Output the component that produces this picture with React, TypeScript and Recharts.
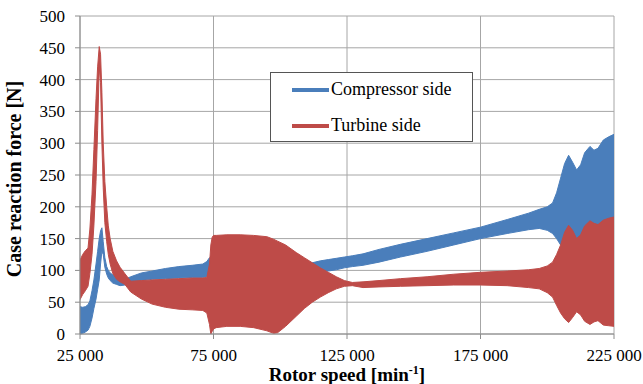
import React from 'react';
import { ComposedChart, Area, XAxis, YAxis, CartesianGrid } from 'recharts';

const speed = [
  25000, 26000, 27000, 28000, 28700, 29500, 30200, 31000, 31600, 32200,
  32700, 33200, 33700, 34300, 35000, 35600, 36300, 37300, 38700, 40000,
  41800, 44000, 48000, 52000, 57000, 62000, 67000, 71000, 72500, 73500,
  74000, 74500, 75000, 76000, 80000, 85000, 90000, 95000, 97500, 99000,
  102000, 106000, 109000, 112000, 115000, 118000, 121000, 124000, 127000, 131000,
  137000, 145000, 155000, 165000, 175000, 185000, 193000, 197000, 200000, 202000,
  203500, 205000, 206500, 208000, 209500, 211000, 212500, 214000, 216000, 217500,
  219000, 221000, 223000, 225000,
];

const turbineHigh = [
  116, 125, 131, 135, 165, 220, 290, 370, 420, 452,
  440, 380, 300, 240, 200, 170, 150, 130, 115, 105,
  95, 83, 84, 85, 86, 87, 88, 88, 89, 110,
  140, 152, 155, 155, 156, 156, 155, 153, 149, 146,
  140, 128, 120, 112, 104, 97, 90, 84, 81, 82,
  84, 87, 90, 94, 97, 99, 101, 103, 107, 113,
  125, 140, 160, 171, 163, 150, 156, 170, 178, 174,
  172, 179, 182, 184,
];

const turbineLow = [
  54, 62, 68, 75, 95, 125, 170, 240, 320, 420,
  395, 300, 230, 175, 145, 125, 110, 95, 86, 82,
  78, 66, 55, 47, 42, 39, 38, 37, 33, 15,
  0, 4, 8, 10, 12, 12, 10, 5, 1, 2,
  12, 28, 40, 50, 58, 65, 71, 75, 76, 73,
  74, 75, 76, 77, 77, 76, 73, 71, 65, 58,
  45, 33, 24, 18, 26, 35, 30, 20, 15, 19,
  21, 14, 13, 12,
];

const compressorHigh = [
  43, 42, 43, 46, 52, 68, 85, 110, 130, 150,
  162, 167, 145, 120, 106, 100, 96, 93, 90, 87,
  86, 90, 96, 99, 103, 106, 108, 110, 114, 120,
  120, 118, 115, 110, 104, 104, 105, 106, 107, 107,
  108, 110, 111, 112, 115, 117, 119, 121, 123, 126,
  133, 141, 150, 159, 168, 180, 190, 196, 200, 206,
  222, 245, 268, 281, 270, 258, 266, 285, 295, 289,
  292, 305, 310, 314,
];

const compressorLow = [
  0, 1, 3, 6, 12, 25, 40, 55, 70, 85,
  110, 130, 125, 105, 94, 88, 84, 80, 78, 76,
  77, 80, 84, 86, 87, 88, 89, 89, 90, 92,
  93, 93, 93, 93, 93, 94, 95, 96, 96, 96,
  97, 98, 99, 99, 99, 99, 101, 104, 106, 108,
  113, 121, 130, 140, 150, 158, 164, 166, 163, 158,
  150, 140, 150, 165, 155, 148, 150, 165, 175, 170,
  168, 175, 180, 182,
];

const xTicks = [25000, 75000, 125000, 175000, 225000];
const yTicks = [0, 50, 100, 150, 200, 250, 300, 350, 400, 450, 500];
const seriesNames = ['Compressor side', 'Turbine side'];
const seriesColors = ['#4A7EBB', '#BE4B48'];
const xTitle = 'Rotor speed [min';
const yTitle = 'Case reaction force [N]';

const data = speed.map((s, i) => ({
  speed: s,
  comp: [compressorLow[i], compressorHigh[i]],
  turb: [turbineLow[i], turbineHigh[i]],
}));

const FONT = '"Liberation Serif", "Times New Roman", Times, serif';

const fmtThousands = (v: number) => {
  const s = String(v);
  return s.length > 3 ? s.slice(0, -3) + ' ' + s.slice(-3) : s;
};

const XTick = (props: any) => {
  const { x, y, payload } = props;
  return (
    <text x={x} y={y + 11} textAnchor="middle" style={{ fontFamily: FONT, fontSize: 17 }} fill="#000">
      {fmtThousands(payload.value)}
    </text>
  );
};

const YTick = (props: any) => {
  const { x, y, payload } = props;
  return (
    <text x={x} y={y + 6} textAnchor="end" style={{ fontFamily: FONT, fontSize: 17 }} fill="#000">
      {payload.value}
    </text>
  );
};

const XLabel = (props: any) => {
  const vb = props.viewBox || { x: 80, y: 334, width: 534, height: 50 };
  const cx = vb.x + vb.width / 2;
  return (
    <text x={cx} y={vb.y + 47} textAnchor="middle" style={{ fontFamily: FONT, fontWeight: 'bold', fontSize: 19 }} fill="#000">
      {xTitle}
      <tspan dy={-7} style={{ fontSize: 12 }}>-1</tspan>
      <tspan dy={7}>]</tspan>
    </text>
  );
};

const YLabel = (props: any) => {
  const vb = props.viewBox || { x: 0, y: 16, width: 80, height: 318 };
  const x = vb.x + 21;
  const y = vb.y + vb.height / 2 + 4;
  return (
    <text x={x} y={y} transform={`rotate(-90, ${x}, ${y})`} textAnchor="middle" style={{ fontFamily: FONT, fontWeight: 'bold', fontSize: 20 }} fill="#000">
      {yTitle}
    </text>
  );
};

export default function App() {
  return (
    <div style={{ position: 'absolute', left: 0, top: 0, width: 643, height: 384, background: '#fff' }}>
      <ComposedChart width={643} height={384} data={data} margin={{ top: 16, right: 29, bottom: 0, left: 0 }}>
        <CartesianGrid stroke="#A6A6A6" strokeWidth={1} />
        <XAxis
          dataKey="speed"
          type="number"
          domain={[25000, 225000]}
          ticks={xTicks}
          height={50}
          tickSize={5}
          tickMargin={11}
          stroke="#8C8C8C"
          tick={<XTick />}
          label={<XLabel />}
          allowDataOverflow
        />
        <YAxis
          type="number"
          domain={[0, 500]}
          ticks={yTicks}
          width={80}
          tickSize={5}
          tickMargin={10}
          stroke="#8C8C8C"
          tick={<YTick />}
          label={<YLabel />}
        />
        <Area
          type="linear"
          dataKey="comp"
          name={seriesNames[0]}
          stroke={seriesColors[0]}
          strokeWidth={1}
          fill={seriesColors[0]}
          fillOpacity={1}
          isAnimationActive={false}
          dot={false}
          activeDot={false}
        />
        <Area
          type="linear"
          dataKey="turb"
          name={seriesNames[1]}
          stroke={seriesColors[1]}
          strokeWidth={1}
          fill={seriesColors[1]}
          fillOpacity={1}
          isAnimationActive={false}
          dot={false}
          activeDot={false}
        />
      </ComposedChart>
      <div
        style={{
          position: 'absolute',
          left: 270,
          top: 72,
          width: 203,
          height: 70,
          border: '1px solid #555',
          background: '#fff',
          boxSizing: 'border-box',
          fontFamily: FONT,
          fontSize: 18,
          color: '#000',
        }}
      >
        {seriesNames.map((n, i) => (
          <div key={n} style={{ position: 'absolute', left: 0, top: i === 0 ? 5 : 41, height: 22, width: '100%' }}>
            <div style={{ position: 'absolute', left: 21, top: 10, width: 37, height: 3.5, background: seriesColors[i] }} />
            <div style={{ position: 'absolute', left: 60, top: 0, lineHeight: '22px', whiteSpace: 'nowrap' }}>{n}</div>
          </div>
        ))}
      </div>
    </div>
  );
}
